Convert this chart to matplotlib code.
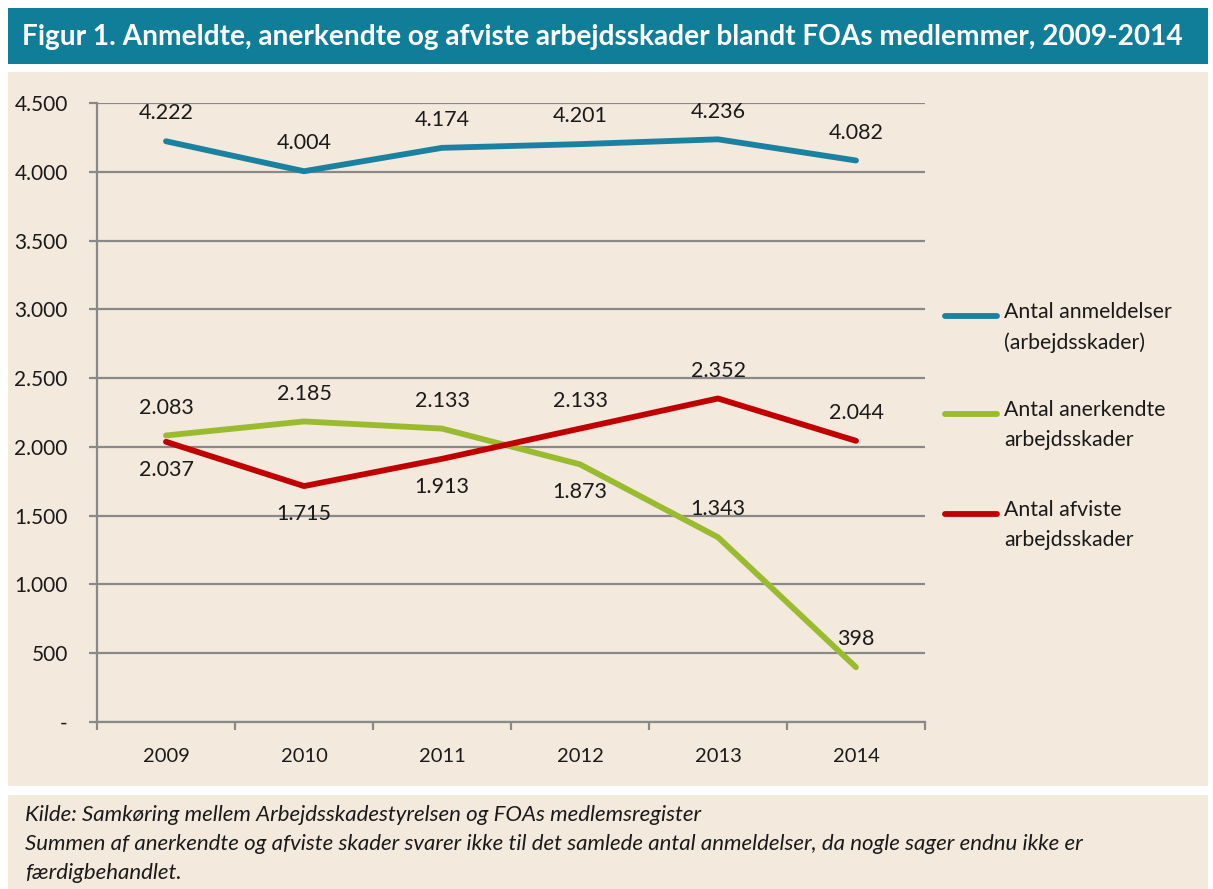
import matplotlib.pyplot as plt
from matplotlib.patches import Rectangle
from matplotlib.lines import Line2D
from matplotlib.ticker import FixedLocator

plt.rcParams['font.family'] = ['Lato', 'DejaVu Sans']

years = ['2009', '2010', '2011', '2012', '2013', '2014']
anmeldelser = [4222, 4004, 4174, 4201, 4236, 4082]
anerkendte = [2083, 2185, 2133, 1873, 1343, 398]
afviste = [2037, 1715, 1913, 2133, 2352, 2044]

# +1 = label above the point, -1 = below
pos_anmeldelser = [1, 1, 1, 1, 1, 1]
pos_anerkendte = [1, 1, 1, -1, 1, 1]
pos_afviste = [-1, -1, -1, 1, 1, 1]

yticks = [0, 500, 1000, 1500, 2000, 2500, 3000, 3500, 4000, 4500]
ytick_labels = ['-', '500', '1.000', '1.500', '2.000', '2.500', '3.000', '3.500', '4.000', '4.500']

series = [
    ('Antal anmeldelser\n(arbejdsskader)', anmeldelser, pos_anmeldelser, '#1a82a0'),
    ('Antal anerkendte\narbejdsskader', anerkendte, pos_anerkendte, '#9bbb2f'),
    ('Antal afviste\narbejdsskader', afviste, pos_afviste, '#c00000'),
]

W, H = 1213, 889
fig = plt.figure(figsize=(W / 100, H / 100), dpi=100)
fig.patch.set_facecolor('white')

beige = '#f4e9dd'
def box(x0, y0, x1, y1, color):
    fig.add_artist(Rectangle((x0 / W, 1 - y1 / H), (x1 - x0) / W, (y1 - y0) / H,
                             transform=fig.transFigure, facecolor=color,
                             edgecolor='none', zorder=0))

box(8, 8, 1208, 64, '#117e99')
box(8, 72, 1208, 786, beige)
box(8, 795, 1208, 889, beige)

fig.text(22 / W, 1 - 37 / H,
         'Figur 1. Anmeldte, anerkendte og afviste arbejdsskader blandt FOAs medlemmer, 2009-2014',
         color='white', fontsize=20.2, fontweight='bold', va='center', ha='left')

ax = fig.add_axes([97 / W, 1 - 722 / H, (925 - 97) / W, (722 - 103) / H])
ax.set_facecolor('none')
x = list(range(len(years)))

for label, vals, pos, col in series:
    ax.plot(x, vals, color=col, lw=4.2, solid_capstyle='round', solid_joinstyle='round', zorder=3)
    for xi, v, p in zip(x, vals, pos):
        ax.annotate(f'{v:,}'.replace(',', '.'), (xi, v), xytext=(0, 20 * p),
                    textcoords='offset points', ha='center', va='center',
                    fontsize=15.5, color='#1a1a1a', zorder=4)

ax.set_xlim(-0.5, len(years) - 0.5)
ax.set_ylim(0, 4500)
ax.set_yticks(yticks)
ax.set_yticklabels(ytick_labels)
ax.set_xticks(x)
ax.set_xticklabels(years)
ax.xaxis.set_minor_locator(FixedLocator([i - 0.5 for i in range(len(years) + 1)]))

grid_c = '#898989'
ax.grid(axis='y', color=grid_c, lw=1.6, zorder=1)
for s in ['top', 'right']:
    ax.spines[s].set_visible(False)
for s in ['left', 'bottom']:
    ax.spines[s].set_color(grid_c)
    ax.spines[s].set_linewidth(1.6)
ax.tick_params(axis='y', length=6, width=1.6, color=grid_c, labelsize=15, pad=15, labelcolor='#1a1a1a')
ax.tick_params(axis='x', which='major', length=0, labelsize=14.5, pad=19, labelcolor='#1a1a1a')
ax.tick_params(axis='x', which='minor', length=6, width=1.6, color=grid_c)

# legend drawn by hand so the marker lines up with the first text line
leg_y = [316, 414, 514]
for (label, vals, pos, col), yy in zip(series, leg_y):
    fig.add_artist(Line2D([945 / W, 997 / W], [1 - yy / H, 1 - yy / H], transform=fig.transFigure,
                          color=col, lw=4.2, solid_capstyle='round'))
    fig.text(1004 / W, 1 - (yy - 14) / H, label, fontsize=15.3, va='top', ha='left',
             color='#1a1a1a', linespacing=1.6)

notes = ['Kilde: Samkøring mellem Arbejdsskadestyrelsen og FOAs medlemsregister',
         'Summen af anerkendte og afviste skader svarer ikke til det samlede antal anmeldelser, da nogle sager endnu ikke er',
         'færdigbehandlet.']
for i, n in enumerate(notes):
    fig.text(25 / W, 1 - (815 + i * 29) / H, n, fontsize=16, style='italic',
             va='center', ha='left', color='#1a1a1a')

fig.savefig('out.png', dpi=100, facecolor=fig.get_facecolor())
